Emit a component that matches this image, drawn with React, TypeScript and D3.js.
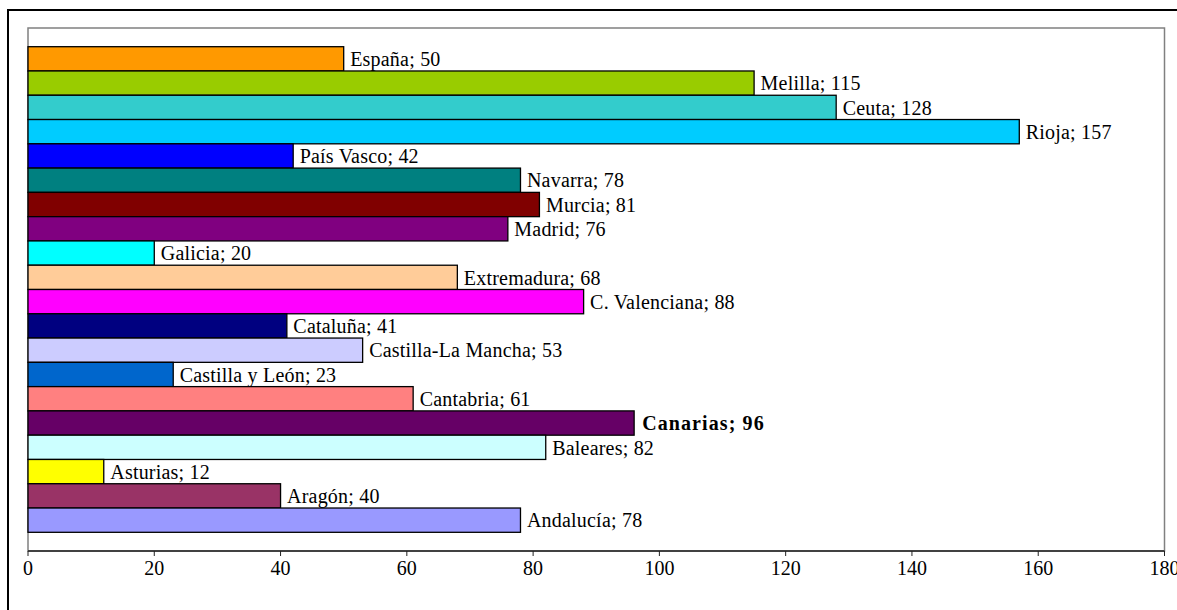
import React from "react";
import * as d3 from "d3";

const regions = [
  "España", "Melilla", "Ceuta", "Rioja", "País Vasco", "Navarra", "Murcia", "Madrid",
  "Galicia", "Extremadura", "C. Valenciana", "Cataluña", "Castilla-La Mancha",
  "Castilla y León", "Cantabria", "Canarias", "Baleares", "Asturias", "Aragón", "Andalucía",
];
const values = [50, 115, 128, 157, 42, 78, 81, 76, 20, 68, 88, 41, 53, 23, 61, 96, 82, 12, 40, 78];
const colors = [
  "#FF9900", "#99CC00", "#33CCCC", "#00CCFF", "#0000FF", "#008080", "#800000", "#800080",
  "#00FFFF", "#FFCC99", "#FF00FF", "#000080", "#CCCCFF", "#0066CC", "#FF8080", "#660066",
  "#CCFFFF", "#FFFF00", "#993366", "#9999FF",
];
const highlighted = "Canarias";
const xTicks = [0, 20, 40, 60, 80, 100, 120, 140, 160, 180];

const W = 1177;
const H = 610;
const plot = { left: 28, top: 28, right: 1164.5, bottom: 551 };
const FONT = "'Liberation Serif', 'Times New Roman', serif";

export default function App() {
  const x = d3.scaleLinear().domain([0, 180]).range([plot.left, plot.right]);
  const y = d3
    .scaleBand<string>()
    .domain(regions)
    .range([plot.top, plot.bottom])
    .paddingInner(0)
    .paddingOuter(0.77);
  const bw = y.bandwidth();

  return (
    <svg
      width={W}
      height={H}
      style={{ position: "absolute", left: 0, top: 0, background: "#fff" }}
    >
      <rect x={8} y={10} width={W + 20} height={H + 20} fill="#fff" stroke="#000" strokeWidth={2} />
      <rect
        x={plot.left}
        y={plot.top}
        width={plot.right - plot.left}
        height={plot.bottom - plot.top}
        fill="#fff"
        stroke="#808080"
        strokeWidth={1.5}
      />
      {regions.map((r, i) => (
        <rect
          key={r}
          x={x(0)}
          y={y(r)!}
          width={x(values[i]) - x(0)}
          height={bw}
          fill={colors[i]}
          stroke="#000"
          strokeWidth={1.3}
        />
      ))}
      {regions.map((r, i) => {
        const bold = r === highlighted;
        return (
          <text
            key={"l" + r}
            x={x(values[i]) + (bold ? 8 : 6.5)}
            y={y(r)! + bw / 2}
            dy="0.36em"
            fontFamily={FONT}
            fontSize={20}
            fontWeight={bold ? "bold" : "normal"}
            letterSpacing={bold ? 1.1 : 0.2}
            fill="#000"
          >
            {r}; {values[i]}
          </text>
        );
      })}
      <line x1={plot.left} x2={plot.right} y1={plot.bottom} y2={plot.bottom} stroke="#222" strokeWidth={1.5} />
      {xTicks.map((t) => (
        <g key={"t" + t}>
          <line x1={x(t)} x2={x(t)} y1={plot.bottom} y2={plot.bottom + 5} stroke="#222" strokeWidth={1} />
          <text
            x={x(t)}
            y={575}
            textAnchor="middle"
            fontFamily={FONT}
            fontSize={20}
            fill="#000"
          >
            {t}
          </text>
        </g>
      ))}
    </svg>
  );
}
